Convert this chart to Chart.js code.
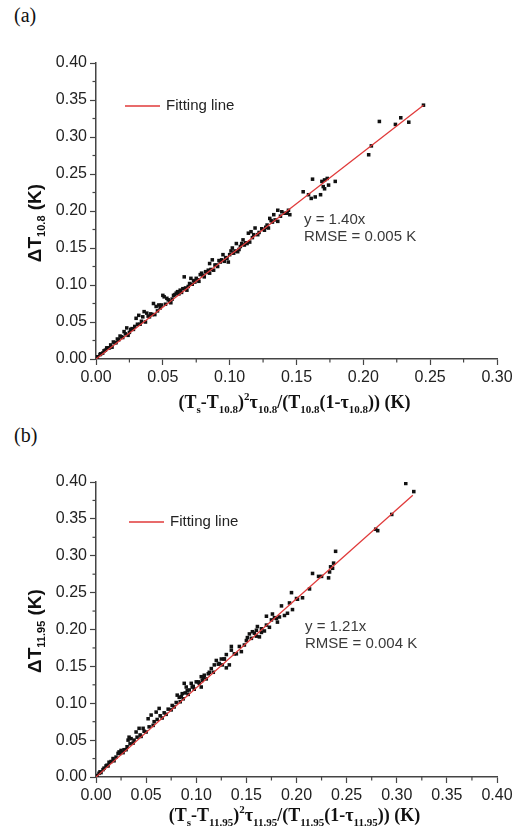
<!DOCTYPE html>
<html>
<head>
<meta charset="utf-8">
<script src="https://cdn.jsdelivr.net/npm/chart.js@4.4.1/dist/chart.umd.min.js"></script>
<style>
  body { margin: 0; background: #fff; width: 521px; height: 834px; position: relative; overflow: hidden; }
  .panel-label { position: absolute; left: 14px; font: 20px "Liberation Serif", "Times New Roman", serif; color: #111; }
  canvas { position: absolute; left: 0; }
</style>
</head>
<body>
<div class="panel-label" style="top:4px">(a)</div>
<div class="panel-label" style="top:424px">(b)</div>
<canvas id="chart-a" width="521" height="415" style="top:0"></canvas>
<canvas id="chart-b" width="521" height="419" style="top:415px"></canvas>
<script>
// Panel (a) – 10.8 µm
const xA = [0.245, 0.212, 0.224, 0.228, 0.234, 0.206, 0.204, 0.162, 0.179, 0.173, 0.171, 0.169, 0.174, 0.155, 0.159, 0.161, 0.164, 0.168, 0.171, 0.170,
  0.143, 0.144, 0.145, 0.136, 0.133, 0.130, 0.134, 0.136, 0.128, 0.129, 0.126, 0.119, 0.116, 0.114, 0.118, 0.121, 0.110, 0.111, 0.115, 0.105,
  0.102, 0.103, 0.106, 0.095, 0.098, 0.094, 0.099, 0.087, 0.085, 0.089, 0.091, 0.088, 0.084, 0.079, 0.081, 0.066, 0.071, 0.078, 0.061, 0.063,
  0.067, 0.060, 0.058, 0.050, 0.051, 0.053, 0.043, 0.045, 0.047, 0.036, 0.038, 0.032, 0.030, 0.035, 0.023, 0.021, 0.026, 0.018, 0.016, 0.013,
  0.011, 0.008, 0.006, 0.0035, 0.001, 0.005, 0.010, 0.015, 0.020, 0.025, 0.028, 0.033, 0.040, 0.042, 0.046, 0.048, 0.052, 0.055, 0.057, 0.062,
  0.064, 0.069, 0.072, 0.074, 0.076, 0.080, 0.083, 0.086, 0.090, 0.093, 0.097, 0.100, 0.104, 0.108, 0.112, 0.117, 0.122, 0.127, 0.132, 0.138,
  0.141, 0.012, 0.024, 0.037, 0.044, 0.056, 0.068, 0.077, 0.085, 0.096, 0.107, 0.113,
  0.003, 0.007, 0.009, 0.014, 0.017, 0.019, 0.022, 0.027, 0.029, 0.031, 0.034, 0.039, 0.041, 0.049, 0.054, 0.059, 0.065, 0.070, 0.073, 0.075,
  0.082, 0.092, 0.101, 0.109, 0.124, 0.131, 0.139];
const yA = [0.343, 0.321, 0.317, 0.326, 0.320, 0.288, 0.276, 0.243, 0.240, 0.244, 0.242, 0.240, 0.235, 0.226, 0.222, 0.217, 0.219, 0.222, 0.230, 0.233,
  0.197, 0.201, 0.195, 0.201, 0.195, 0.190, 0.188, 0.186, 0.181, 0.177, 0.174, 0.177, 0.172, 0.170, 0.168, 0.168, 0.161, 0.154, 0.158, 0.156,
  0.150, 0.143, 0.145, 0.141, 0.136, 0.134, 0.131, 0.134, 0.129, 0.127, 0.125, 0.120, 0.120, 0.116, 0.111, 0.111, 0.109, 0.114, 0.091, 0.093,
  0.096, 0.089, 0.086, 0.086, 0.084, 0.082, 0.075, 0.071, 0.073, 0.064, 0.062, 0.059, 0.055, 0.057, 0.042, 0.037, 0.040, 0.031, 0.027, 0.023,
  0.019, 0.015, 0.011, 0.007, 0.003, 0.008, 0.015, 0.022, 0.029, 0.036, 0.040, 0.047, 0.057, 0.060, 0.065, 0.069, 0.074, 0.078, 0.081, 0.088,
  0.090, 0.098, 0.101, 0.104, 0.107, 0.113, 0.117, 0.121, 0.127, 0.131, 0.137, 0.141, 0.146, 0.152, 0.157, 0.164, 0.171, 0.178, 0.185, 0.193,
  0.197, 0.016, 0.032, 0.050, 0.060, 0.076, 0.093, 0.105, 0.116, 0.132, 0.148, 0.156,
  0.006, 0.012, 0.015, 0.022, 0.026, 0.030, 0.034, 0.041, 0.044, 0.047, 0.051, 0.058, 0.061, 0.073, 0.080, 0.087, 0.095, 0.102, 0.106, 0.109,
  0.118, 0.133, 0.146, 0.156, 0.176, 0.187, 0.199];
const fitXA = [0, 0.245];
const fitYA = [0, 0.343];

// Panel (b) – 11.95 µm
const xB = [0.309, 0.317, 0.295, 0.279, 0.281, 0.239, 0.237, 0.234, 0.236, 0.233, 0.232, 0.216, 0.222, 0.225, 0.213, 0.195, 0.206, 0.201, 0.193, 0.185,
  0.196, 0.191, 0.176, 0.170, 0.183, 0.188, 0.181, 0.180, 0.175, 0.173, 0.168, 0.165, 0.163, 0.161, 0.160, 0.165, 0.153, 0.156, 0.151, 0.160,
  0.135, 0.135, 0.140, 0.145, 0.130, 0.120, 0.125, 0.128, 0.118, 0.123, 0.126, 0.130, 0.133, 0.115, 0.113, 0.108, 0.105, 0.106, 0.100, 0.103,
  0.096, 0.093, 0.088, 0.081, 0.083, 0.086, 0.095, 0.090, 0.105, 0.063, 0.060, 0.055, 0.052, 0.047, 0.043, 0.040, 0.035, 0.032, 0.033, 0.025,
  0.023, 0.022, 0.017, 0.013, 0.010, 0.007, 0.003, 0.001, 0.005, 0.012, 0.018, 0.027, 0.030, 0.037, 0.045, 0.050, 0.057, 0.066, 0.070, 0.075,
  0.078, 0.084, 0.087, 0.092, 0.098, 0.110, 0.117, 0.138, 0.148, 0.155, 0.170, 0.178, 0.200,
  0.004, 0.008, 0.011, 0.015, 0.020, 0.024, 0.028, 0.031, 0.034, 0.038, 0.041, 0.044, 0.048, 0.053, 0.058, 0.061, 0.064, 0.068, 0.072, 0.076,
  0.080, 0.085, 0.089, 0.091, 0.097, 0.102, 0.107, 0.112, 0.122, 0.128, 0.143, 0.150, 0.158];
const yB = [0.398, 0.387, 0.356, 0.336, 0.334, 0.306, 0.290, 0.285, 0.283, 0.278, 0.270, 0.276, 0.272, 0.272, 0.255, 0.250, 0.243, 0.241, 0.236, 0.232,
  0.227, 0.222, 0.221, 0.218, 0.217, 0.219, 0.210, 0.215, 0.213, 0.203, 0.198, 0.196, 0.190, 0.204, 0.199, 0.201, 0.194, 0.197, 0.189, 0.191,
  0.177, 0.172, 0.167, 0.170, 0.166, 0.158, 0.160, 0.160, 0.152, 0.154, 0.152, 0.148, 0.152, 0.147, 0.142, 0.138, 0.136, 0.131, 0.129, 0.127,
  0.122, 0.118, 0.127, 0.111, 0.108, 0.113, 0.127, 0.122, 0.122, 0.093, 0.088, 0.084, 0.079, 0.066, 0.066, 0.061, 0.052, 0.050, 0.054, 0.036,
  0.034, 0.032, 0.025, 0.020, 0.015, 0.010, 0.005, 0.002, 0.006, 0.015, 0.022, 0.033, 0.037, 0.046, 0.055, 0.061, 0.070, 0.080, 0.085, 0.091,
  0.095, 0.102, 0.106, 0.112, 0.119, 0.133, 0.142, 0.167, 0.179, 0.188, 0.206, 0.216, 0.242,
  0.007, 0.012, 0.016, 0.021, 0.027, 0.032, 0.037, 0.041, 0.045, 0.050, 0.054, 0.057, 0.062, 0.068, 0.075, 0.078, 0.083, 0.087, 0.092, 0.097,
  0.101, 0.109, 0.114, 0.117, 0.123, 0.129, 0.135, 0.140, 0.153, 0.160, 0.177, 0.185, 0.195];
const fitXB = [0, 0.316];
const fitYB = [0, 0.382];

const SANS = '"Liberation Sans", Arial, sans-serif';
const SERIF = '"Liberation Serif", "Times New Roman", serif';

// draw text made of normal / sub / sup pieces
function richWidth(ctx, parts, size, family) {
  let w = 0;
  parts.forEach(([t, k]) => {
    const s = k === 'n' ? size : Math.round(size * 0.6);
    ctx.font = `bold ${s}px ${family}`;
    w += ctx.measureText(t).width;
  });
  return w;
}
function drawRich(ctx, cx, cy, parts, size, family) {
  let x = cx - richWidth(ctx, parts, size, family) / 2;
  ctx.textBaseline = 'alphabetic';
  ctx.textAlign = 'left';
  parts.forEach(([t, k]) => {
    const s = k === 'n' ? size : Math.round(size * 0.6);
    ctx.font = `bold ${s}px ${family}`;
    let y = cy + size * 0.35;
    if (k === 'sub') y += size * 0.25;
    if (k === 'sup') y -= size * 0.45;
    ctx.fillText(t, x, y);
    x += ctx.measureText(t).width;
  });
}

const decoPlugin = {
  id: 'deco',
  afterDraw(chart, args, opts) {
    const { ctx, chartArea } = chart;
    const sx = chart.scales.x, sy = chart.scales.y;
    ctx.save();
    // minor ticks
    ctx.strokeStyle = '#444';
    ctx.lineWidth = 1.2;
    for (let v = 0.025; v < sx.max; v += 0.05) {
      const px = sx.getPixelForValue(v);
      ctx.beginPath(); ctx.moveTo(px, chartArea.bottom); ctx.lineTo(px, chartArea.bottom + 3.5); ctx.stroke();
    }
    for (let v = 0.025; v < sy.max; v += 0.05) {
      const py = sy.getPixelForValue(v);
      ctx.beginPath(); ctx.moveTo(chartArea.left, py); ctx.lineTo(chartArea.left - 3.5, py); ctx.stroke();
    }
    // legend
    ctx.strokeStyle = '#e03a3a';
    ctx.lineWidth = 1.6;
    ctx.beginPath(); ctx.moveTo(opts.legX, opts.legY); ctx.lineTo(opts.legX + 35, opts.legY); ctx.stroke();
    ctx.fillStyle = '#222';
    ctx.font = `15px ${SANS}`;
    ctx.textBaseline = 'middle';
    ctx.textAlign = 'left';
    ctx.fillText('Fitting line', opts.legX + 41, opts.legY);
    // fit annotation
    ctx.fillStyle = '#3a3a3a';
    ctx.font = `15px ${SANS}`;
    ctx.fillText(opts.eq, opts.annX, opts.annY);
    ctx.fillText(opts.rmse, opts.annX, opts.annY + 17);
    // axis titles
    ctx.fillStyle = '#111';
    drawRich(ctx, (chartArea.left + chartArea.right) / 2 - 2, opts.xTitleY, opts.xTitle, 18, SERIF);
    ctx.save();
    ctx.translate(34, opts.yTitleY);
    ctx.rotate(-Math.PI / 2);
    drawRich(ctx, 0, 0, opts.yTitle, 19, SANS);
    ctx.restore();
    ctx.restore();
  }
};

function makeChart(id, xs, ys, fx, fy, xMax, xFitHeight, deco) {
  const pts = xs.map((x, i) => ({ x: x, y: ys[i] }));
  const fit = fx.map((x, i) => ({ x: x, y: fy[i] }));
  const axis = (max) => ({
    type: 'linear',
    min: 0,
    max: max,
    grid: { display: true, drawOnChartArea: false, drawTicks: true, tickLength: 6, tickColor: '#444', tickWidth: 1.2 },
    border: { display: true, color: '#444', width: 1.5 },
    ticks: {
      stepSize: 0.05,
      autoSkip: false,
      maxRotation: 0,
      padding: 3,
      color: '#222',
      font: { family: SANS, size: 16 },
      callback: (v) => v.toFixed(2)
    }
  });
  const xs_ = axis(xMax);
  xs_.afterFit = (s) => { s.height = xFitHeight; };
  const ys_ = axis(0.40);
  ys_.afterFit = (s) => { s.width = 96; };

  return new Chart(document.getElementById(id), {
    type: 'scatter',
    data: {
      datasets: [
        {
          label: 'Fitting line',
          data: fit,
          showLine: true,
          borderColor: '#e03a3a',
          borderWidth: 1.3,
          pointRadius: 0
        },
        {
          label: 'data',
          data: pts,
          pointStyle: 'rect',
          pointRadius: 2.5,
          backgroundColor: '#111',
          borderColor: '#111',
          borderWidth: 0
        }
      ]
    },
    options: {
      responsive: false,
      animation: false,
      layout: { padding: { top: deco.top, right: 24, left: 0, bottom: 0 } },
      plugins: { legend: { display: false }, tooltip: { enabled: false }, deco: deco },
      scales: { x: xs_, y: ys_ }
    },
    plugins: [decoPlugin]
  });
}

makeChart('chart-a', xA, yA, fitXA, fitYA, 0.30, 56, {
  top: 63,
  legX: 125, legY: 106,
  annX: 304, annY: 220, eq: 'y = 1.40x', rmse: 'RMSE = 0.005 K',
  xTitleY: 402, yTitleY: 223,
  xTitle: [['(T', 'n'], ['s', 'sub'], ['-T', 'n'], ['10.8', 'sub'], [')', 'n'], ['2', 'sup'], ['τ', 'n'], ['10.8', 'sub'],
    ['/(T', 'n'], ['10.8', 'sub'], ['(1-τ', 'n'], ['10.8', 'sub'], [')) (K)', 'n']],
  yTitle: [['ΔT', 'n'], ['10.8', 'sub'], [' (K)', 'n']]
});

makeChart('chart-b', xB, yB, fitXB, fitYB, 0.40, 57, {
  top: 67,
  legX: 129, legY: 107,
  annX: 305, annY: 212, eq: 'y = 1.21x', rmse: 'RMSE = 0.004 K',
  xTitleY: 400, yTitleY: 216,
  xTitle: [['(T', 'n'], ['s', 'sub'], ['-T', 'n'], ['11.95', 'sub'], [')', 'n'], ['2', 'sup'], ['τ', 'n'], ['11.95', 'sub'],
    ['/(T', 'n'], ['11.95', 'sub'], ['(1-τ', 'n'], ['11.95', 'sub'], [')) (K)', 'n']],
  yTitle: [['ΔT', 'n'], ['11.95', 'sub'], [' (K)', 'n']]
});
</script>
</body>
</html>
